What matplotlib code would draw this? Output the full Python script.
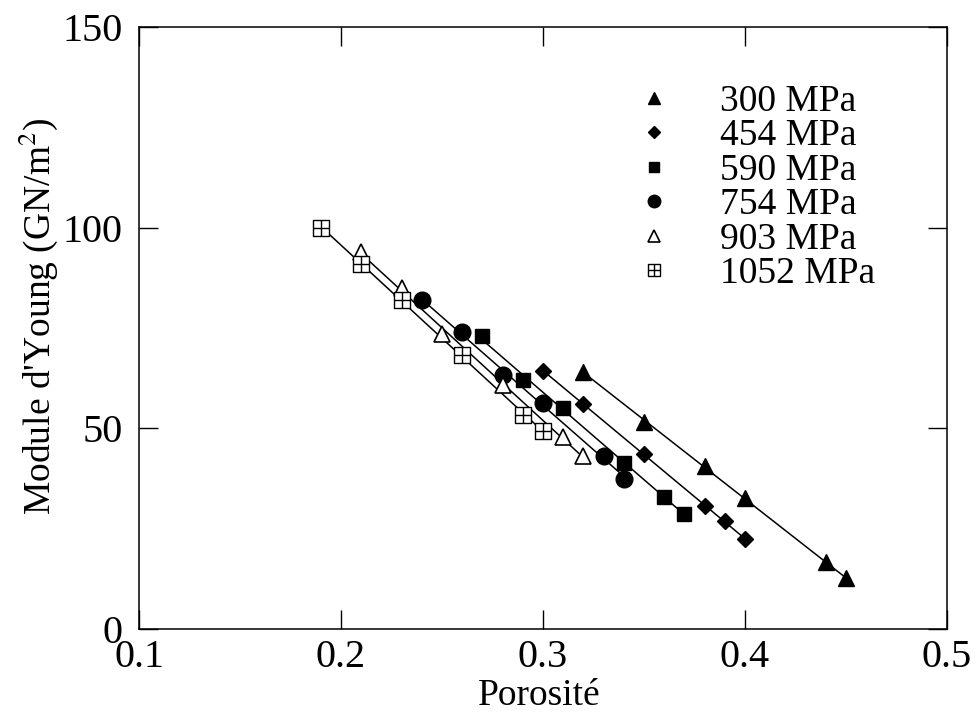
import numpy as np
import matplotlib
matplotlib.use("Agg")
import matplotlib.pyplot as plt
from matplotlib.path import Path

plt.rcParams['font.family'] = ['Liberation Serif', 'DejaVu Serif']
plt.rcParams['mathtext.fontset'] = 'stix'

labels = ["300 MPa", "454 MPa", "590 MPa", "754 MPa", "903 MPa", "1052 MPa"]

x_300 = [0.32, 0.35, 0.38, 0.40, 0.44, 0.45]
y_300 = [64.0, 51.7, 40.5, 32.7, 16.6, 12.6]

x_454 = [0.30, 0.32, 0.35, 0.38, 0.39, 0.40]
y_454 = [64.4, 56.0, 43.5, 30.6, 26.9, 22.5]

x_590 = [0.27, 0.29, 0.31, 0.34, 0.36, 0.37]
y_590 = [72.9, 62.0, 55.0, 41.4, 33.0, 28.6]

x_754 = [0.24, 0.26, 0.28, 0.30, 0.33, 0.34]
y_754 = [82.0, 74.0, 63.4, 56.3, 43.0, 37.5]

x_903 = [0.21, 0.23, 0.25, 0.28, 0.31, 0.32]
y_903 = [94.0, 85.0, 73.5, 60.8, 47.8, 43.0]

x_1052 = [0.19, 0.21, 0.23, 0.26, 0.29, 0.30]
y_1052 = [100.0, 91.0, 82.0, 68.2, 53.4, 49.3]

# custom "squared plus" marker
sq_plus = Path(
    [(-1, -1), (1, -1), (1, 1), (-1, 1), (-1, -1),
     (-1, 0), (1, 0), (0, -1), (0, 1)],
    [Path.MOVETO, Path.LINETO, Path.LINETO, Path.LINETO, Path.CLOSEPOLY,
     Path.MOVETO, Path.LINETO, Path.MOVETO, Path.LINETO])

series = [
    (x_300, y_300, dict(marker='^', ms=12, mfc='black', mec='black')),
    (x_454, y_454, dict(marker='D', ms=8.5, mfc='black', mec='black')),
    (x_590, y_590, dict(marker='s', ms=10, mfc='black', mec='black')),
    (x_754, y_754, dict(marker='o', ms=12, mfc='black', mec='black')),
    (x_903, y_903, dict(marker='^', ms=12, mfc='white', mec='black', mew=1.2)),
    (x_1052, y_1052, dict(marker=sq_plus, ms=11, mfc='white', mec='black', mew=1.0)),
]

fig = plt.figure(figsize=(9.79, 7.16), dpi=100)
ax = fig.add_axes([139 / 979, 1 - 629 / 716, 808 / 979, 602 / 716])

for (xs, ys, st), lab in zip(series, labels):
    xs = np.asarray(xs)
    ys = np.asarray(ys)
    coef = np.polyfit(xs, ys, 1)
    xl = np.array([xs.min(), xs.max()])
    ax.plot(xl, np.polyval(coef, xl), color='black', lw=1.1, zorder=1)
    ax.plot(xs, ys, linestyle='none', label=lab, zorder=3, **st)

ax.set_xlim(0.1, 0.5)
ax.set_ylim(0, 150)
ax.set_xticks([0.1, 0.2, 0.3, 0.4, 0.5])
ax.set_xticklabels(["0.1", "0.2", "0.3", "0.4", "0.5"])
ax.set_yticks([0, 50, 100, 150])
ax.set_yticklabels(["0", "50", "100", "150"])
ax.tick_params(direction='in', length=14, width=1.0, top=True, right=True,
               labelsize=29)
ax.tick_params(axis='x', pad=7)
ax.tick_params(axis='y', pad=12)
for sp in ax.spines.values():
    sp.set_linewidth(1.1)

ax.set_xlabel("Porosité", fontsize=27)
ax.xaxis.set_label_coords((539 - 139) / 808, -0.083)
ax.set_ylabel("Module d'Young (GN/m$^2$)", fontsize=27)
ax.yaxis.set_label_coords(-0.098, 0.52)

leg = ax.legend(loc='upper left', bbox_to_anchor=((654 - 139) / 808 - 0.5 * 37.5 / 808, 0.905),
                frameon=False, fontsize=27, handlelength=1.0, handletextpad=1.26,
                labelspacing=0.0, borderpad=0, borderaxespad=0, markerscale=0.75,
                numpoints=1)

fig.savefig("out.png", dpi=100)
